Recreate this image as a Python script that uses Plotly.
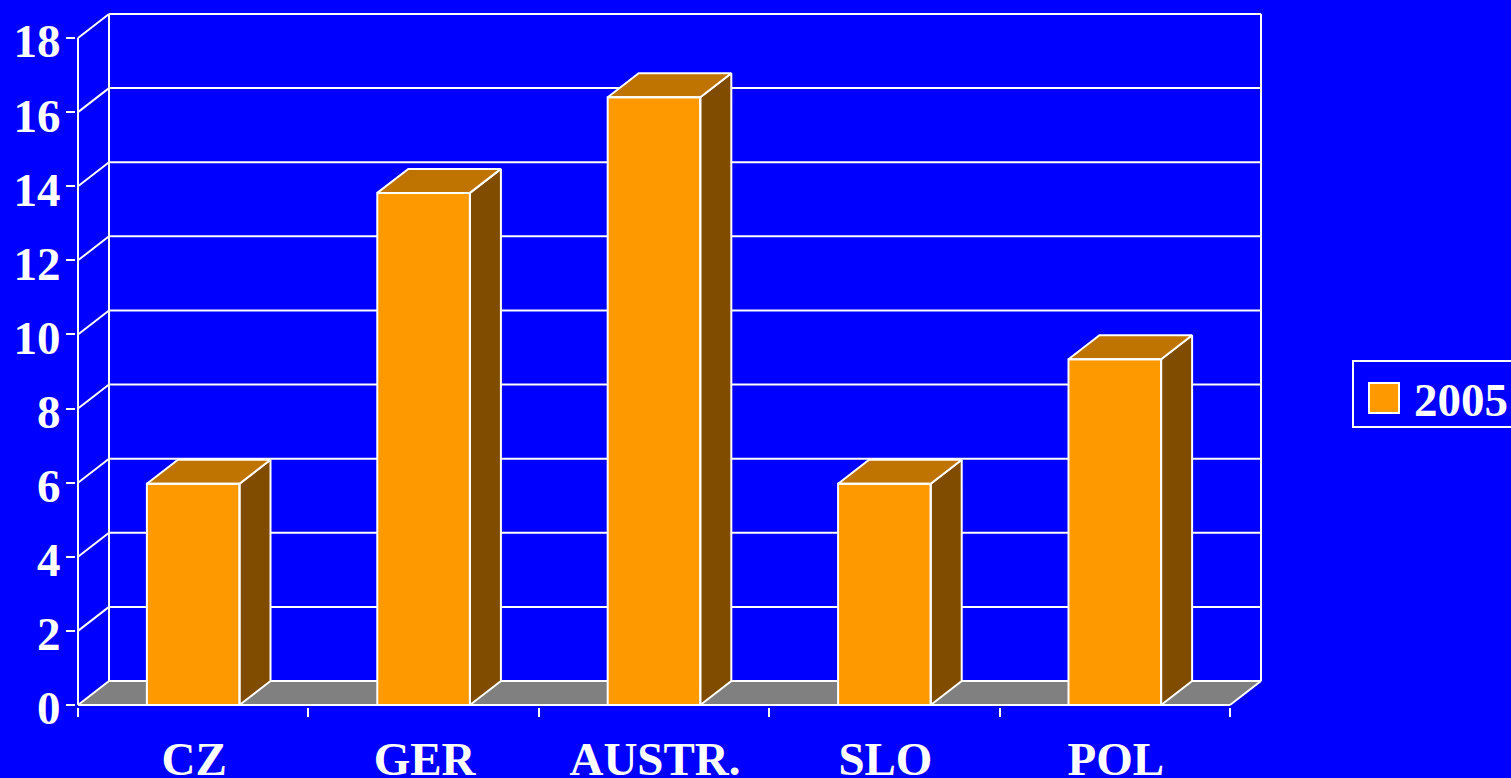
import plotly.graph_objects as go

categories = ["CZ", "GER", "AUSTR.", "SLO", "POL"]
values_2005 = [5.97, 13.82, 16.4, 5.97, 9.33]
series_name = "2005"
y_ticks = [0, 2, 4, 6, 8, 10, 12, 14, 16, 18]

BLUE = "#0000FF"; ORANGE = "#FF9900"; SIDE = "#7F4C00"; TOP = "#BF7300"; FLOOR = "#808080"; WHITE = "#FFFFFF"
FONT = "Liberation Serif"
W, H = 1511, 778
PX_X, PX_Y = 230.4, 37.06         # pixels per data unit
DX, DY = 31 / PX_X, 24 / PX_Y     # depth of the oblique projection
BAR = 0.402
PAD = 2
L, R, T, B = 78 - PAD, 1261 + PAD, 14 - PAD, 705 + PAD
n = len(categories)
YMAX = y_ticks[-1]
centers = [i + 0.5 for i in range(n)]

fig = go.Figure()
fig.add_trace(go.Bar(x=centers, y=values_2005, width=BAR, name=series_name,
                     marker=dict(color=ORANGE, line=dict(width=0)),
                     showlegend=True, hoverinfo="x+y"))

def poly(xs, ys, fill):
    fig.add_trace(go.Scatter(x=xs, y=ys, mode="lines", fill="toself", fillcolor=fill,
                             line=dict(color=WHITE, width=2), showlegend=False,
                             hoverinfo="skip", cliponaxis=False))

for c, v in zip(centers, values_2005):
    x0, x1 = c - BAR / 2, c + BAR / 2
    poly([x1, x1 + DX, x1 + DX, x1, x1], [0, DY, v + DY, v, 0], SIDE)
    poly([x0, x1, x1 + DX, x0 + DX, x0], [v, v, v + DY, v + DY, v], TOP)
    fig.add_trace(go.Scatter(x=[x0, x1, x1, x0, x0], y=[0, 0, v, v, 0], mode="lines",
                             line=dict(color=WHITE, width=2), showlegend=False,
                             hoverinfo="skip", cliponaxis=False))

line = dict(color=WHITE, width=2)
shapes = [dict(type="path", xref="x", yref="y", layer="below", fillcolor=FLOOR, line=dict(width=0),
               path=f"M0,0 L{DX},{DY} L{n + DX},{DY} L{n},0 Z")]
def seg(x0, y0, x1, y1):
    shapes.append(dict(type="line", xref="x", yref="y", layer="below", x0=x0, y0=y0, x1=x1, y1=y1, line=line))
for t in y_ticks:
    seg(0, t, DX, t + DY)
    seg(DX, t + DY, n + DX, t + DY)
seg(0, 0, 0, YMAX)
seg(DX, DY, DX, YMAX + DY)
seg(n + DX, DY, n + DX, YMAX + DY)
seg(n, 0, n + DX, DY)
seg(0, 0, n, 0)

def px(x): return (x - L) / (R - L)
def py(y): return (B - y) / (B - T)
shapes.append(dict(type="rect", xref="paper", yref="paper", layer="above", fillcolor=ORANGE,
                   line=line, x0=px(1369), x1=px(1399), y0=py(413), y1=py(383)))
shapes.append(dict(type="rect", xref="paper", yref="paper", layer="above", fillcolor="rgba(0,0,0,0)",
                   line=line, x0=px(1353), x1=px(1520), y0=py(427), y1=py(361)))

fig.update_layout(
    width=W, height=H, paper_bgcolor=BLUE, plot_bgcolor=BLUE,
    margin=dict(l=L, r=W - R, t=T, b=H - B, autoexpand=False, pad=0),
    font=dict(family=FONT, color=WHITE, size=47, weight="bold"),
    shapes=shapes, showlegend=True,
    legend=dict(x=px(1354), xanchor="left", y=py(398), yanchor="middle",
                bgcolor="rgba(0,0,0,0)", borderwidth=0,
                itemwidth=50, font=dict(family=FONT, color=WHITE, size=47, weight="bold")),
    xaxis=dict(range=[-PAD / PX_X, n + DX + PAD / PX_X], showgrid=False, zeroline=False, showline=False,
               tickmode="array", tickvals=centers, ticktext=categories, ticks="", ticklen=0,
               ticklabelstandoff=20, ticklabelshift=1,
               minor=dict(tickmode="array", tickvals=list(range(n + 1)), ticks="outside",
                          ticklen=9, tickwidth=2, tickcolor=WHITE, showgrid=False)),
    yaxis=dict(range=[-PAD / PX_Y, YMAX + DY + PAD / PX_Y], showgrid=False, zeroline=False, showline=False,
               tickmode="array", tickvals=y_ticks, ticks="outside", ticklen=9, tickwidth=2,
               tickcolor=WHITE, ticklabelstandoff=-4, ticklabelshift=3),
)
fig.write_html("out.html", config={"displayModeBar": False},
               post_script="document.body.style.margin='0';document.documentElement.style.overflow='hidden';")
